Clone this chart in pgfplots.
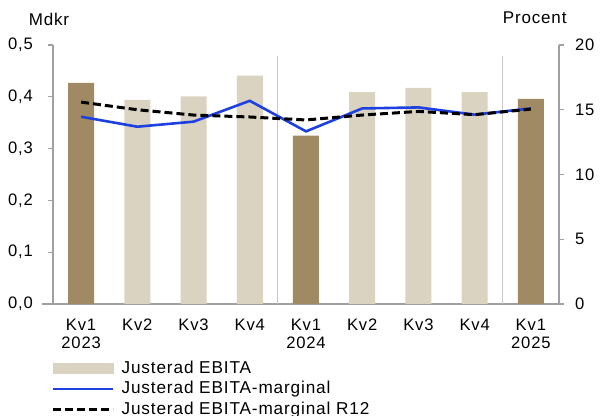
\documentclass[border=0pt]{standalone}
\usepackage{fontspec}
\setmainfont{Liberation Sans}[LetterSpace=5]
\usepackage{pgfplots}
\pgfplotsset{compat=1.18}
\definecolor{darkbar}{HTML}{A08A64}
\definecolor{lightbar}{HTML}{DBD3C1}
\definecolor{blueline}{HTML}{1E40E0}
\definecolor{axgray}{HTML}{A0A0A0}
\definecolor{sepgray}{HTML}{C8C8C8}
\begin{document}
\begin{tikzpicture}
\path[use as bounding box] (-26.5pt,-56pt) rectangle (273.5pt,152pt);
\pgfplotsset{
  common/.style={
    scale only axis, width=253pt, height=129.5pt,
    xmin=-0.5, xmax=8.5,
    /pgf/number format/assume math mode=true,
    tick label style={font=\fontsize{8.3}{9.5}\selectfont},
    clip=false,
  }
}
\begin{axis}[common,
  ymin=0, ymax=0.5,
  ytick={0,0.1,0.2,0.3,0.4,0.5},
  yticklabel style={/pgf/number format/fixed, /pgf/number format/fixed zerofill, /pgf/number format/precision=1, /pgf/number format/use comma, xshift=-4pt},
  axis y line*=left, axis x line*=bottom,
  y axis line style={axgray, line width=0.6pt, -},
  x axis line style={axgray, line width=0.6pt, -, shorten <=-5.5pt, shorten >=-2pt},
  ytick style={axgray, line width=0.6pt},
  tick align=outside, major tick length=2.5pt,
  xtick={0,...,8}, xtick style={draw=none},
  xticklabels={{Kv1\\2023},Kv2,Kv3,Kv4,{Kv1\\2024},Kv2,Kv3,Kv4,{Kv1\\2025}},
  xticklabel style={align=center, font=\fontsize{8.3}{9}\selectfont, yshift=-1.5pt},
  ybar, bar width=13pt, bar shift=0pt,
]
\addplot[ybar, fill=lightbar, draw=none] coordinates {(1,0.394) (2,0.401) (3,0.441) (5,0.409) (6,0.417) (7,0.409)};
\addplot[ybar, fill=darkbar, draw=none] coordinates {(0,0.427) (4,0.325) (8,0.396)};
\addplot[sharp plot, sepgray, line width=0.6pt] coordinates {(3.5,0) (3.5,0.479)};
\addplot[sharp plot, sepgray, line width=0.6pt] coordinates {(7.5,0) (7.5,0.479)};
\node[font=\fontsize{8.5}{10}\selectfont, anchor=center] at (axis description cs:-0.008,1.10) {Mdkr};
\node[font=\fontsize{8.5}{10}\selectfont, anchor=center] at (axis description cs:0.952,1.104) {Procent};
\end{axis}
\begin{axis}[common,
  ymin=0, ymax=20,
  ytick={0,5,10,15,20},
  axis y line*=right, axis x line=none,
  y axis line style={axgray, line width=0.6pt, -},
  ytick style={axgray, line width=0.6pt},
  tick align=outside, major tick length=2.5pt,
  yticklabel style={xshift=2pt},
  legend style={at={(-0.002,-0.210)}, anchor=north west, draw=none, fill=none,
    inner sep=0pt, outer sep=0pt, row sep=0pt,
    nodes={inner xsep=3.3pt, inner ysep=0.5pt, text height=7pt, text depth=2.25pt},
    font=\fontsize{8.6}{10}\selectfont, cells={anchor=west}},
  legend cell align=left,
]
\addlegendimage{legend image code/.code={\fill[lightbar] (0pt,-2.5pt) rectangle (30pt,2.5pt);}}
\addlegendentry{Justerad EBITA}
\addplot[blueline, line width=1.3pt, legend image code/.code={\draw[blueline, line width=1.3pt] (0pt,0pt) -- (30pt,0pt);}]
  coordinates {(0,14.46) (1,13.69) (2,14.08) (3,15.69) (4,13.33) (5,15.1) (6,15.18) (7,14.62) (8,15.1)};
\addlegendentry{Justerad EBITA-marginal}
\addplot[black, line width=1.5pt, dash pattern=on 4pt off 2pt, legend image code/.code={\draw[black, line width=1.5pt, dash pattern=on 4pt off 2pt] (0pt,0pt) -- (30pt,0pt);}]
  coordinates {(0,15.59) (1,15.0) (2,14.59) (3,14.44) (4,14.21) (5,14.59) (6,14.87) (7,14.62) (8,15.05)};
\addlegendentry{Justerad EBITA-marginal R12}
\end{axis}
\end{tikzpicture}
\end{document}
